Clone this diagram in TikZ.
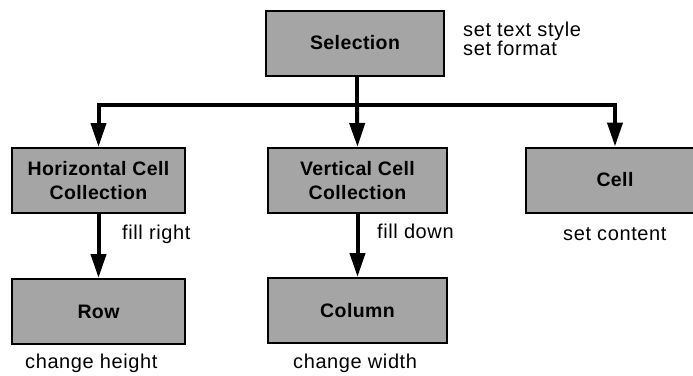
\documentclass[tikz,border=0pt]{standalone}
\usepackage{fontspec}
\setmainfont{Liberation Sans}[LetterSpace=3]
\newfontfamily\boxfam{Liberation Sans}[LetterSpace=2]
\usetikzlibrary{arrows.meta}
\definecolor{boxgray}{RGB}{165,165,165}
\newcommand\boxfont{\boxfam\bfseries\fontsize{19.5}{24}\selectfont}
\newcommand\notefont{\fontsize{20}{17}\selectfont}
\begin{document}
\begin{tikzpicture}[x=1pt,y=-1pt,
  box/.style={draw=black, line width=2pt, fill=boxgray, minimum height=65pt,
    inner sep=0pt, align=center, font=\boxfont},
  link/.style={line width=4pt},
  flow/.style={line width=4pt, -{Triangle[length=24pt,width=15pt]}},
  note/.style={font=\notefont, inner sep=0pt, anchor=base west}]
\clip (0,0) rectangle (693,375);

% classes
\node[box, minimum width=178pt] (sel)  at (355,43)     {Selection};
\node[box, minimum width=173pt] (hcc)  at (98.5,180.5) {Horizontal Cell\\Collection};
\node[box, minimum width=179pt] (vcc)  at (357.5,180.5){Vertical Cell\\Collection};
\node[box, minimum width=178pt] (cell) at (615,180)    {Cell};
\node[box, minimum width=173pt] (row)  at (98.5,311.5) {Row};
\node[box, minimum width=179pt] (col)  at (357.5,310.5){Column};

% distribution bus
\coordinate (bus) at (357,105);
\draw[link] (sel.south -| bus) -- (bus);
\draw[flow] (bus) -| (hcc.north);
\draw[flow] (bus) -- (vcc.north);
\draw[flow] (bus) -| (cell.north);
\draw[flow] (hcc.south) -- (row.north);
\draw[flow] (vcc.south) -- (col.north);

% operations
\node[note] (n1) at (463,36)  {set text style};
\node[note] (n2) at (463,55.5){set format};
\node[note] (n3) at (122,239) {fill right};
\node[note] (n4) at (377,238) {fill down};
\node[note] (n5) at (563,240) {set content};
\node[note] (n6) at (25,368)  {change height};
\node[note] (n7) at (293,368) {change width};
\end{tikzpicture}
\end{document}
